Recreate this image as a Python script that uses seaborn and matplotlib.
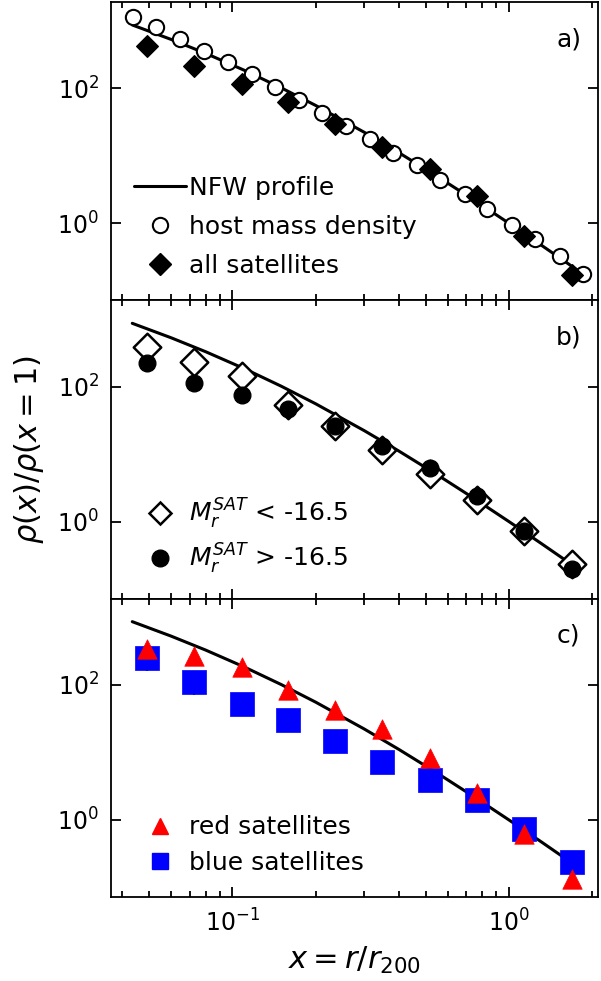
import matplotlib
matplotlib.use("Agg")
import matplotlib.pyplot as plt
import seaborn as sns
from matplotlib.lines import Line2D
from matplotlib.ticker import LogLocator, NullLocator

# radial bins (x = r / r200)
x_host = [0.0437, 0.0531, 0.0645, 0.0789, 0.0964, 0.118, 0.142, 0.174, 0.211, 0.258,
          0.314, 0.381, 0.465, 0.565, 0.692, 0.835, 1.025, 1.246, 1.525, 1.851]
rho_host = [1147, 797, 533, 357, 244, 164, 106, 67.8, 42.9, 27.5,
            17.9, 11.1, 7.26, 4.34, 2.71, 1.64, 0.946, 0.577, 0.326, 0.179]

x_sat = [0.0489, 0.0726, 0.1078, 0.1589, 0.2357, 0.3486, 0.5169, 0.7687, 1.133, 1.690]
rho_all = [419, 213, 116, 61.8, 30.0, 13.6, 6.40, 2.56, 0.648, 0.170]

rho_bright = [391, 235, 144, 53.6, 26.2, 11.5, 5.04, 2.10, 0.728, 0.234]
rho_faint = [227, 112, 74.6, 46.3, 26.2, 13.2, 6.18, 2.40, 0.728, 0.197]
err_faint = [60, 8, 5, 3, 1.5, 0.8, 0.4, 0.15, 0.05, 0.02]

rho_red = [345, 267, 183, 84.2, 42.8, 22.5, 8.14, 2.49, 0.618, 0.134]
rho_blue = [249, 112, 53.1, 30.0, 14.7, 7.17, 3.95, 1.94, 0.734, 0.238]
err_blue = [90, 40, 5, 3, 1.5, 0.8, 0.4, 0.15, 0.05, 0.02]

# NFW curve
x_nfw = [0.0434, 0.06, 0.08, 0.11, 0.15, 0.2, 0.3, 0.4, 0.55, 0.75, 1.0, 1.3, 1.8]
rho_nfw = [867, 529, 328.7, 185.7, 101.5, 55.6, 22.2, 11.08, 4.947, 2.185, 1.0, 0.4826, 0.1922]

sns.set_style("ticks")
plt.rcParams["font.family"] = ["DejaVu Sans"]
plt.rcParams["mathtext.fontset"] = "dejavusans"
plt.rcParams["axes.linewidth"] = 1.3
for key in ["text.color", "axes.labelcolor", "axes.edgecolor", "xtick.color", "ytick.color"]:
    plt.rcParams[key] = "black"

FS = 18

fig, axes = plt.subplots(3, 1, figsize=(6.01, 9.81), dpi=100, sharex=True, sharey=True)
fig.subplots_adjust(left=0.1855, right=0.995, top=0.998, bottom=0.0856, hspace=0)


def nfw(ax):
    sns.lineplot(x=x_nfw, y=rho_nfw, ax=ax, color="black", lw=2.2, zorder=2, legend=False)


# a) host density + all satellites
ax = axes[0]
nfw(ax)
sns.scatterplot(x=x_host, y=rho_host, ax=ax, marker="o", s=11**2, facecolor="white",
                edgecolor="black", linewidth=1.5, zorder=3, legend=False)
sns.scatterplot(x=x_sat, y=rho_all, ax=ax, marker="D", s=11**2, color="black",
                edgecolor="black", linewidth=1, zorder=4, legend=False)
handles = [
    Line2D([], [], color="black", lw=2.2),
    Line2D([], [], ls="", marker="o", ms=11, mfc="white", mec="black", mew=1.5),
    Line2D([], [], ls="", marker="D", ms=11, mfc="black", mec="black"),
]
ax.legend(handles, ["NFW profile", "host mass density", "all satellites"],
          loc="lower left", frameon=False, fontsize=FS, handlelength=2.1,
          handletextpad=0.1, labelspacing=0.6)

# b) split by luminosity
ax = axes[1]
nfw(ax)
sns.scatterplot(x=x_sat, y=rho_bright, ax=ax, marker="D", s=14**2, facecolor="white",
                edgecolor="black", linewidth=1.8, zorder=3, legend=False)
ax.errorbar(x_sat, rho_faint, yerr=err_faint, fmt="none", ecolor="black", elinewidth=1.5, zorder=4)
sns.scatterplot(x=x_sat, y=rho_faint, ax=ax, marker="o", s=12**2, color="black",
                edgecolor="black", linewidth=1, zorder=5, legend=False)
handles = [
    Line2D([], [], ls="", marker="D", ms=11, mfc="white", mec="black", mew=1.8),
    Line2D([], [], ls="", marker="o", ms=12, mfc="black", mec="black"),
]
ax.legend(handles, [r"$M_r^{SAT}$ < -16.5", r"$M_r^{SAT}$ > -16.5"],
          loc="lower left", frameon=False, fontsize=FS, handlelength=2.1,
          handletextpad=0.1, labelspacing=0.45)

# c) split by colour
ax = axes[2]
nfw(ax)
ax.errorbar(x_sat, rho_blue, yerr=err_blue, fmt="none", ecolor="blue", elinewidth=1.5, zorder=3)
sns.scatterplot(x=x_sat, y=rho_blue, ax=ax, marker="s", s=17**2, color="blue",
                edgecolor="blue", linewidth=0.5, zorder=4, legend=False)
sns.scatterplot(x=x_sat, y=rho_red, ax=ax, marker="^", s=14**2, color="red",
                edgecolor="red", linewidth=0.5, zorder=5, legend=False)
handles = [
    Line2D([], [], ls="", marker="^", ms=11, mfc="red", mec="red"),
    Line2D([], [], ls="", marker="s", ms=12, mfc="blue", mec="blue"),
]
ax.legend(handles, ["red satellites", "blue satellites"],
          loc="lower left", frameon=False, fontsize=FS, handlelength=2.1,
          handletextpad=0.1, labelspacing=0.45)

for ax, tag in zip(axes, ["a)", "b)", "c)"]):
    ax.set_xscale("log")
    ax.set_yscale("log")
    ax.set_xlim(0.0365, 2.1)
    ax.set_ylim(0.072, 1900)
    ax.yaxis.set_major_locator(LogLocator(base=100))
    ax.yaxis.set_minor_locator(NullLocator())
    ax.tick_params(which="both", direction="in", top=True, right=True, labelsize=17,
                   width=1.3, pad=9)
    ax.tick_params(which="major", length=7)
    ax.tick_params(which="minor", length=4)
    ax.text(0.94, 0.875, tag, transform=ax.transAxes, fontsize=18, ha="center", va="center")

axes[1].set_ylabel(r"$\rho(x)/\rho(x=1)$", fontsize=22, labelpad=8)
axes[2].set_xlabel(r"$x=r/r_{200}$", fontsize=22, labelpad=6)

fig.savefig("out.png", dpi=100)
